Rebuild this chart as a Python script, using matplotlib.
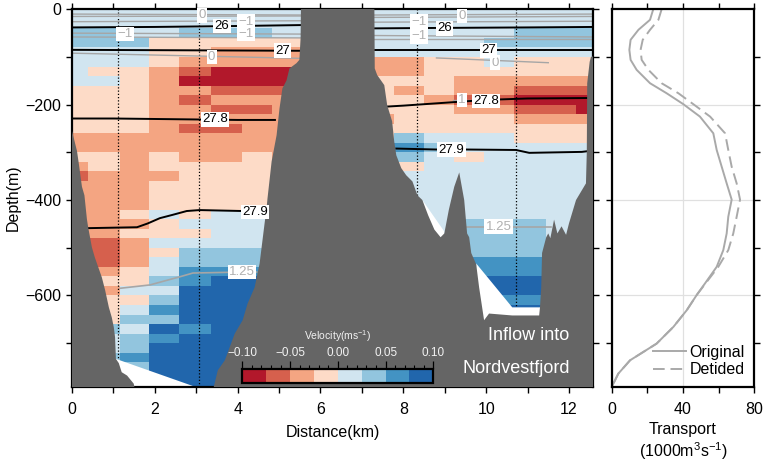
import numpy as np
import matplotlib
matplotlib.use('Agg')
import matplotlib.pyplot as plt
from matplotlib.colors import ListedColormap, BoundaryNorm

plt.rcParams['font.family'] = ['Liberation Sans', 'DejaVu Sans']
plt.rcParams['mathtext.fontset'] = 'custom'
plt.rcParams['mathtext.rm'] = 'Liberation Sans'
plt.rcParams['mathtext.it'] = 'Liberation Sans:italic'
plt.rcParams['mathtext.bf'] = 'Liberation Sans:bold'

# ---------------- data ----------------
col_edges_km = [0, 0.39, 1.16, 1.86, 2.58, 3.35, 4.10, 4.82, 5.54, 7.30, 7.78,
                8.51, 9.23, 9.95, 10.67, 11.45, 12.17, 12.6]
depth_edges_m = np.arange(0, 801, 20)
# velocity class per 20 m depth bin (top->bottom), one string per column
vel_class_cols = [
    "4455 4444 3333 3223 2122 2222 1112 3333 3333 3333",
    "4455 4434 3333 3223 3222 2222 1112 3233 3544 5555",
    "4445 4433 3333 3222 2222 2323 2223 3434 5455 6555",
    "4443 3322 2222 2223 3233 3433 4344 5456 5767 7777",
    "4453 3210 2122 1222 3333 3343 4556 6777 7677 7777",
    "4453 2200 1212 1222 3333 3444 4556 7777 7777 7777",
    "4453 2200 1212 2223 3333 3444 4556 7777 7777 7777",
    "4443 2200 1222 2222 3333 3333 3333 3333 3333 3333",
    ".... .... .... .... .... .... .... .... .... ....",
    "4444 4223 3332 3333 3333 3333 3333 3333 3333 3333",
    "4444 4223 2333 3565 3444 4444 4444 4444 4444 4444",
    "4444 4333 3233 3454 4444 4444 4444 4444 4444 4444",
    "4444 4332 2123 3443 4444 4455 5566 7767 7777 7777",
    "4445 4432 2123 3444 4444 4455 5566 7767 7777 7777",
    "4455 4332 1012 3344 4444 4455 5566 7767 7777 7777",
    "4455 4332 1012 3344 4444 4444 4444 4444 4444 4444",
    "4455 4332 1002 3344 4444 4444 4444 4444 4444 4444",
]
vel_class_values = [-0.0875, -0.0625, -0.0375, -0.0125, 0.0125, 0.0375, 0.0625, 0.0875]
vel_bounds = [-0.1, -0.075, -0.05, -0.025, 0.0, 0.025, 0.05, 0.075, 0.1]
vel_colors = ['#b2182b', '#d6604d', '#f4a582', '#fddbc7',
              '#d1e5f0', '#92c5de', '#4393c3', '#2166ac']

seafloor_pts = [
    (0.0, -255), (0.12, -297), (0.17, -327), (0.24, -372), (0.30, -390),
    (0.36, -440), (0.39, -457), (0.48, -499), (0.55, -520), (0.72, -562),
    (0.80, -589), (0.89, -625), (0.96, -646), (1.01, -667), (1.04, -688),
    (1.06, -733), (1.13, -742), (1.20, -761), (1.33, -768), (1.49, -785),
    (1.55, -810), (3.38, -810), (3.40, -800), (3.52, -757), (3.69, -736),
    (3.93, -680), (4.12, -652), (4.24, -617), (4.41, -583), (4.53, -533),
    (4.65, -449), (4.70, -415), (4.72, -397), (4.82, -319), (4.94, -264),
    (5.01, -208), (5.08, -166), (5.18, -149), (5.25, -124), (5.42, -113),
    (5.49, -106), (5.52, -60), (5.53, 20), (7.30, 20), (7.31, -124),
    (7.37, -138), (7.54, -159), (7.61, -201), (7.73, -235), (7.78, -277),
    (7.83, -306), (7.95, -333), (8.07, -348), (8.22, -361), (8.34, -390),
    (8.46, -400), (8.60, -432), (8.75, -462), (8.90, -478), (8.99, -470),
    (9.10, -420), (9.23, -372), (9.35, -342), (9.47, -400), (9.54, -470),
    (9.59, -478), (9.64, -511), (9.76, -535), (9.83, -583), (9.95, -652),
    (10.07, -638), (10.63, -642), (11.28, -642), (11.30, -625), (11.33, -583),
    (11.35, -511), (11.45, -478), (11.50, -470), (11.55, -480), (11.64, -441),
    (11.72, -470), (11.82, -455), (11.93, -473), (12.00, -449), (12.17, -400),
    (12.41, -365), (12.43, -300), (12.44, -155), (12.50, -110), (12.53, -100),
    (12.70, -95),
]
nodata_left = [(1.06, -733), (3.02, -793), (3.02, -830), (1.0, -830)]
nodata_mid = [(8.46, -400), (8.99, -466), (8.99, -520), (8.46, -520)]
nodata_right = [(9.76, -533), (10.63, -625), (11.30, -625), (11.30, -700), (9.7, -700)]

station_km = [1.11, 3.07, 8.33, 10.72]

# density contours
c26_lx, c26_ld = [0, 2, 4, 5.6], [-38, -37, -35, -33]
c26_rx, c26_rd = [7.3, 9, 11, 12.6], [-40, -39, -38, -37]
c27_lx, c27_ld = [0, 5.6], [-85, -87]
c27_rx, c27_rd = [7.3, 12.6], [-85, -85]
c278_lx, c278_ld = [0, 1, 2, 3, 4, 4.9], [-229, -229, -230, -231, -232, -232]
c278_rx, c278_rd = [7.6, 8.0, 8.5, 9.0, 9.5, 10.0, 11.0, 12.5], [-204, -202, -199, -196, -193, -190, -187, -186]
c279_lx = [0.33, 1.57, 1.83, 2.12, 2.43, 2.77, 3.08, 4.12, 4.7]
c279_ld = [-459, -457, -449, -438, -431, -423, -421, -423, -423]
c279_rx = [7.83, 8.79, 9.5, 10.72, 11.04, 12.31, 12.5]
c279_rd = [-292, -294, -294, -295, -301, -299, -297]
dens_labels = [("26", 3.62, -35), ("26", 9.0, -40), ("27", 5.08, -87), ("27", 10.05, -86),
               ("27.8", 3.45, -231), ("27.8", 10.0, -192), ("27.9", 4.42, -425), ("27.9", 9.16, -294)]

# temperature contours (grey)
t_lx = [0, 5.6]
t_ld = [[-10, -12], [-15, -14], [-26, -24], [-50, -52], [-58, -60], [-92, -103]]
t_rx = [7.3, 12.6]
t_rd = [[-12, -10], [-17, -15], [-27, -25], [-55, -58], [-62, -62]]
t0_rx, t0_rd = [8.8, 11.5], [-102, -112]
t1_rx, t1_rd = [9.2, 9.7], [-190, -190]
t125_lx = [1.16, 1.88, 2.6, 2.92, 4.1, 4.46]
t125_ld = [-585, -578, -561, -553, -551, -551]
t125_rx, t125_rd = [9.52, 11.57], [-457, -457]
temp_labels = [("0", 3.15, -13), ("\u22121", 1.28, -52), ("\u22121", 4.2, -26), ("\u22121", 4.2, -52),
               ("0", 3.37, -100), ("\u22121", 8.38, -26), ("\u22121", 8.38, -57), ("0", 9.42, -14),
               ("0", 10.22, -112), ("1", 9.42, -190), ("1.25", 10.3, -456), ("1.25", 4.1, -551)]

# transport profile
trans_depth = [0, -22, -43, -64, -85, -106, -127, -155, -176, -199, -225, -260, -295, -330,
               -365, -399, -435, -470, -505, -540, -575, -599, -631, -666, -701, -736, -764, -792]
trans_orig = [23.3, 21.5, 15, 10.6, 9.9, 10.6, 14, 21.5, 30.8, 40.2, 49.5, 57, 58.9, 61.7,
              64.5, 67.3, 65.4, 64.5, 62.6, 58.9, 52.3, 47.7, 42.1, 34.6, 25.2, 10.3, 3.7, 0]
trans_detided = [28, 26.2, 21.5, 17.4, 16.2, 16.8, 20.6, 28, 37.4, 45.8, 55.2, 63.6, 65.4, 67.3,
                 70.1, 72, 70.1, 68.2, 65.4, 59.8, 52.6, 47.7, 42.1, 34.6, 25.2, 10.3, 3.7, 0]

# ---------------- figure ----------------
fig = plt.figure(figsize=(7.65, 4.63), dpi=100)
ax = fig.add_axes([0.09412, 0.16415, 0.68105, 0.81577])
ax2 = fig.add_axes([0.79961, 0.16415, 0.18641, 0.81577])

grid = np.full((len(depth_edges_m) - 1, len(vel_class_cols)), np.nan)
for j, s in enumerate(vel_class_cols):
    s = s.replace(' ', '')
    for i, ch in enumerate(s):
        if ch != '.':
            grid[i, j] = vel_class_values[int(ch)]

cmap = ListedColormap(vel_colors)
norm = BoundaryNorm(vel_bounds, cmap.N)
pcm = ax.pcolormesh(col_edges_km, -depth_edges_m, grid, cmap=cmap, norm=norm,
                    shading='flat', zorder=1)

for xs in station_km:
    ax.axvline(xs, color='black', lw=0.9, ls=(0, (1, 1.6)), zorder=1.5)

for poly in (nodata_left, nodata_mid, nodata_right):
    px, py = zip(*poly)
    ax.fill(px, py, color='white', lw=0, zorder=2)

tcol = '#a6a6a6'
for d in t_ld:
    ax.plot(t_lx, d, color=tcol, lw=1.0, zorder=2.5)
for d in t_rd:
    ax.plot(t_rx, d, color=tcol, lw=1.0, zorder=2.5)
ax.plot(t0_rx, t0_rd, color=tcol, lw=1.0, zorder=2.5)
ax.plot(t1_rx, t1_rd, color=tcol, lw=1.0, zorder=2.5)
ax.plot(t125_lx, t125_ld, color=tcol, lw=1.2, zorder=2.5)
ax.plot(t125_rx, t125_rd, color=tcol, lw=1.2, zorder=2.5)

for cx, cd in [(c26_lx, c26_ld), (c26_rx, c26_rd), (c27_lx, c27_ld), (c27_rx, c27_rd),
               (c278_lx, c278_ld), (c278_rx, c278_rd), (c279_lx, c279_ld), (c279_rx, c279_rd)]:
    ax.plot(cx, cd, color='black', lw=1.4, zorder=3)

sx, sd = zip(*seafloor_pts)
ax.fill_between(sx, sd, -1000, color='#656565', lw=0, zorder=4)

for txt, x, d in temp_labels:
    ax.text(x, d, txt, ha='center', va='center', fontsize=9.5, color='#b0b0b0', zorder=5,
            bbox=dict(boxstyle='square,pad=0.1', fc='white', ec='none'))
for txt, x, d in dens_labels:
    ax.text(x, d, txt, ha='center', va='center', fontsize=9.5, color='black', zorder=5.5,
            bbox=dict(boxstyle='square,pad=0.1', fc='white', ec='none'))

ax.text(11.03, -683, 'Inflow into', ha='center', va='center', fontsize=13, color='white', zorder=6)
ax.text(10.72, -753, 'Nordvestfjord', ha='center', va='center', fontsize=13, color='white', zorder=6)

ax.set_xlim(0, 12.58)
ax.set_ylim(-792, 0)
ax.set_xticks([0, 2, 4, 6, 8, 10, 12])
ax.set_xticks([1, 3, 5, 7, 9, 11], minor=True)
ax.set_yticks([-600, -400, -200, 0])
ax.set_yticks([-700, -500, -300, -100], minor=True)
for a in (ax, ax2):
    a.tick_params(which='both', direction='out', top=True, right=True, width=1.0,
                  labelsize=11.5, color='black', length=4.5)
    a.tick_params(axis='x', which='major', pad=6)
    for sp in a.spines.values():
        sp.set_linewidth(1.6)
ax.set_xlabel('Distance(km)', fontsize=11.5, labelpad=6)
ax.set_ylabel('Depth(m)', fontsize=11.5, labelpad=3)

# colorbar
cax = ax.inset_axes([0.3269, 0.0098, 0.3666, 0.037])
cax.set_zorder(7)
cb = fig.colorbar(pcm, cax=cax, orientation='horizontal', ticks=[-0.1, -0.05, 0, 0.05, 0.1])
cb.outline.set_linewidth(1.6)
cax.xaxis.set_ticks_position('top')
cax.xaxis.set_label_position('top')
cax.set_xticklabels(['\u22120.10', '\u22120.05', '0.00', '0.05', '0.10'])
cax.set_xticks([-0.09, -0.08, -0.07, -0.06, -0.04, -0.03, -0.02, -0.01,
                0.01, 0.02, 0.03, 0.04, 0.06, 0.07, 0.08, 0.09], minor=True)
cax.tick_params(which='major', length=6, width=0.9, color='black', labelsize=8.5,
                labelcolor='#f2f2f2', pad=1.5)
cax.tick_params(which='minor', length=3, width=0.8, color='black')
cax.set_xlabel('Velocity(ms$^{-1}$)', fontsize=7.5, color='#f2f2f2', labelpad=5)

# transport panel
ax2.plot(trans_orig, trans_depth, color='#a9a9a9', lw=1.4, label='Original')
ax2.plot(trans_detided, trans_depth, color='#a9a9a9', lw=1.4, dashes=(6, 3), label='Detided')
ax2.set_xlim(0, 80)
ax2.set_ylim(-792, 0)
ax2.set_xticks([0, 40, 80])
ax2.set_xticks([20, 60], minor=True)
ax2.set_yticks([-600, -400, -200])
ax2.set_yticks([-700, -500, -300, -100], minor=True)
ax2.set_yticklabels([])
ax2.grid(True, which='major', color='#e0e0e0', lw=0.9)
ax2.set_axisbelow(True)
ax2.set_xlabel('Transport\n(1000m$^3$s$^{-1}$)', fontsize=11.5, labelpad=4, linespacing=1.2)
leg = ax2.legend(loc='lower right', frameon=False, fontsize=11.5, handlelength=2.1,
                 handletextpad=0.2, labelspacing=0.15, borderaxespad=0.2)

fig.savefig('out.png', dpi=100)
